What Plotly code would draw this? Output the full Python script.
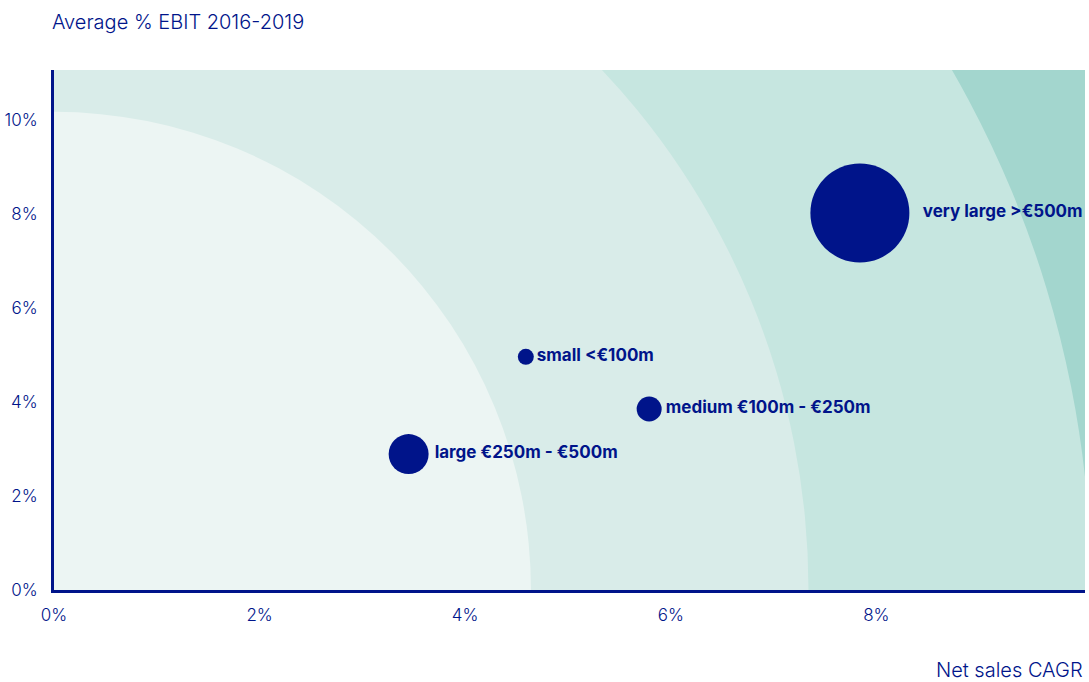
import plotly.graph_objects as go

# Company size groups: net sales CAGR (%) vs average EBIT margin (%)
groups = ["small <€100m", "medium €100m - €250m", "large €250m - €500m", "very large >€500m"]
sales_cagr = [4.59, 5.79, 3.45, 7.84]
avg_ebit = [4.96, 3.85, 2.89, 8.02]
bubble_px = [16, 25, 40, 99]

x_ticks = [0, 2, 4, 6, 8]
x_tick_labels = ["0%", "2%", "4%", "6%", "8%"]
y_ticks = [0, 2, 4, 6, 8, 10]
y_tick_labels = ["0%", "2%", "4%", "6%", "8%", "10%"]

# Background bands as quarter ellipses around the origin (radius in % units per axis)
band_rx = [10.09, 7.34, 4.64]
band_ry = [22.1, 16.09, 10.17]
band_colors = ["#C6E6E0", "#D9ECE9", "#ECF5F3"]
outer_color = "#A3D6CE"

NAVY = "#00148A"
FONT = "Inter"

fig = go.Figure()

fig.add_trace(go.Scatter(
    x=sales_cagr, y=avg_ebit,
    mode="markers+text",
    marker=dict(size=bubble_px, color=NAVY, line=dict(width=0), opacity=1),
    text=groups,
    textposition="middle right",
    textfont=dict(family=FONT, size=17, color=NAVY, weight=700),
    cliponaxis=False,
    hoverinfo="skip",
    showlegend=False,
))

shapes = []
for rx, ry, col in zip(band_rx, band_ry, band_colors):
    shapes.append(dict(
        type="circle", xref="x", yref="y",
        x0=-rx, x1=rx, y0=-ry, y1=ry,
        fillcolor=col, line=dict(width=0), layer="below",
    ))

fig.update_layout(
    width=1089, height=682,
    margin=dict(l=52, r=4, t=70, b=92),
    paper_bgcolor="white",
    plot_bgcolor=outer_color,
    shapes=shapes,
    font=dict(family=FONT, color=NAVY),
    xaxis=dict(
        range=[0, 10.03], tickvals=x_ticks, ticktext=x_tick_labels,
        showgrid=False, zeroline=False,
        showline=True, linecolor=NAVY, linewidth=3,
        ticks="", ticklabelstandoff=8,
        tickfont=dict(size=17, color=NAVY, family=FONT, weight=300),
    ),
    yaxis=dict(
        range=[0, 11.06], tickvals=y_ticks, ticktext=y_tick_labels,
        showgrid=False, zeroline=False,
        showline=True, linecolor=NAVY, linewidth=3,
        ticks="", ticklabelstandoff=10,
        tickfont=dict(size=17, color=NAVY, family=FONT, weight=300),
    ),
    annotations=[
        dict(text="Average % EBIT 2016-2019", xref="paper", yref="paper",
             x=0, y=1, xanchor="left", yanchor="middle", xshift=-4, yshift=48,
             showarrow=False, font=dict(size=20, color=NAVY, family=FONT, weight=300)),
        dict(text="Net sales CAGR", xref="paper", yref="paper",
             x=1, y=0, xanchor="right", yanchor="middle", yshift=-80,
             showarrow=False, font=dict(size=20, color=NAVY, family=FONT, weight=300)),
    ],
)

fig.write_html("out.html")
